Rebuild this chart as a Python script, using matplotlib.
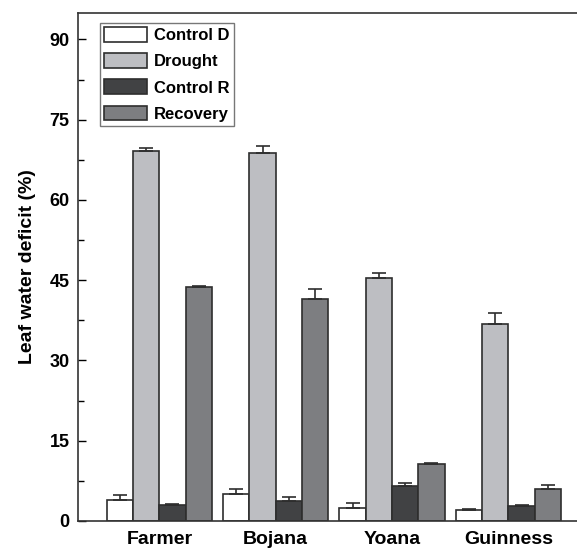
#!/usr/bin/env python3
# Leaf water deficit por variedad: barras agrupadas con error solo hacia arriba

import numpy as np
import matplotlib
matplotlib.use("Agg")
import matplotlib.pyplot as plt
from matplotlib.ticker import MultipleLocator

# Datos
variedades = ["Farmer", "Bojana", "Yoana", "Guinness"]
series = ["Control D", "Drought", "Control R", "Recovery"]
control_d = [3.9, 5.0, 2.5, 2.0]
drought = [69.2, 68.8, 45.5, 36.8]
control_r = [3.0, 3.8, 6.6, 2.7]
recovery = [43.8, 41.4, 10.7, 6.0]
err_control_d = [0.9, 0.9, 0.9, 0.2]
err_drought = [0.5, 1.3, 0.9, 2.0]
err_control_r = [0.1, 0.6, 0.5, 0.2]
err_recovery = [0.1, 1.9, 0.2, 0.8]

# Estilo
colores = ["#ffffff", "#bdbec2", "#414244", "#7d7e81"]
borde = "#2e2e2e"
plt.rcParams["font.family"] = ["Liberation Sans", "DejaVu Sans"]
plt.rcParams["font.weight"] = "bold"

fig = plt.figure(figsize=(5.77, 5.53), dpi=100)
ax = fig.add_axes([0.135, 0.058, 0.865, 0.919])

x = np.arange(len(variedades))
ancho = 0.226
valores = [control_d, drought, control_r, recovery]
errores = [err_control_d, err_drought, err_control_r, err_recovery]
for i, (vals, errs) in enumerate(zip(valores, errores)):
    pos = x + (i - 1.5) * ancho
    yerr = np.vstack([np.zeros(len(errs)), errs])
    ax.bar(pos, vals, width=ancho, color=colores[i], edgecolor=borde,
           linewidth=1.2, label=series[i], zorder=2)
    ax.errorbar(pos, vals, yerr=yerr, fmt="none", ecolor=borde,
                elinewidth=1.2, capsize=5, capthick=1.2, zorder=3)

ax.set_xlim(-0.70, 3.59)
ax.set_ylim(0, 95)
ax.yaxis.set_major_locator(MultipleLocator(15))
ax.yaxis.set_minor_locator(MultipleLocator(7.5))
ax.set_xticks(x)
ax.set_xticklabels(variedades, fontsize=14, fontweight="bold")
ax.tick_params(axis="x", length=0, pad=7)
ax.tick_params(axis="y", which="major", direction="in", length=6, width=1,
               labelsize=13, pad=6)
ax.tick_params(axis="y", which="minor", direction="in", length=4, width=1)
for lab in ax.get_yticklabels():
    lab.set_fontweight("bold")
ax.set_ylabel("Leaf water deficit (%)", fontsize=14, fontweight="bold", labelpad=10)

for s in ["left", "bottom", "top"]:
    ax.spines[s].set_linewidth(1.2)
    ax.spines[s].set_color("#333333")
ax.spines["right"].set_visible(False)

leg = ax.legend(loc="upper left", bbox_to_anchor=(0.044, 0.98), borderaxespad=0,
                fontsize=12, handlelength=2.6, handleheight=1.0,
                labelspacing=0.6, handletextpad=0.4, borderpad=0.25,
                fancybox=False, framealpha=1)
leg.get_frame().set_edgecolor("#777777")
leg.get_frame().set_linewidth(1.0)
for t in leg.get_texts():
    t.set_fontweight("bold")

fig.savefig("out.png", dpi=100)
